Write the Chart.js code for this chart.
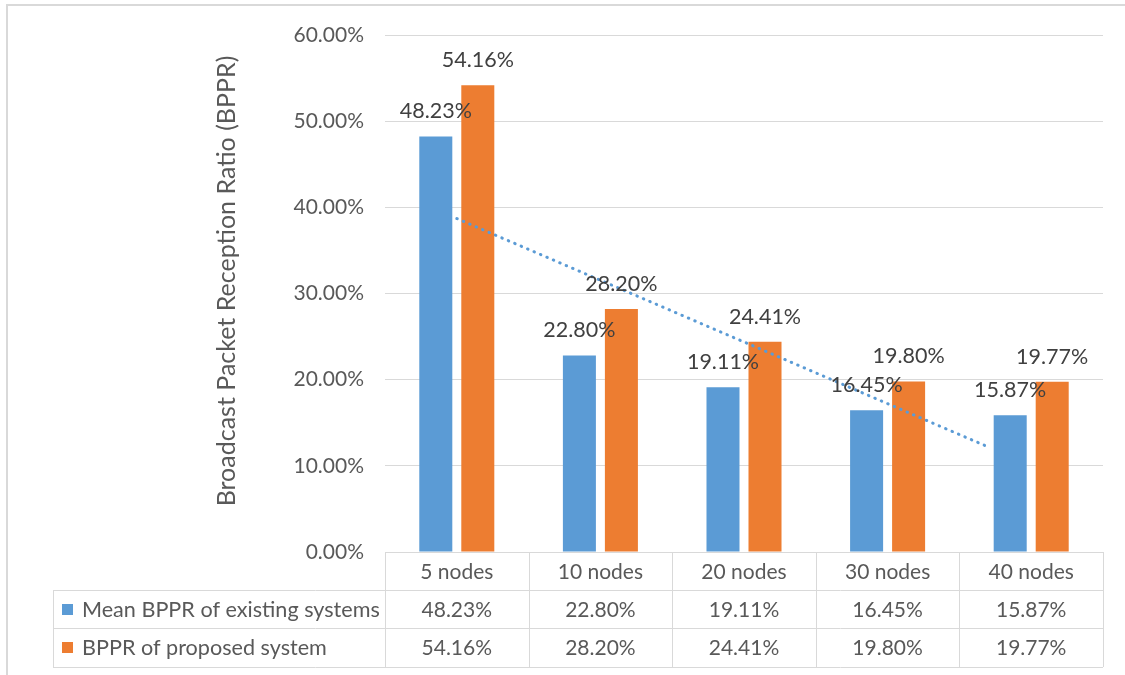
<!DOCTYPE html>
<html>
<head>
<meta charset="utf-8">
<script src="https://cdn.jsdelivr.net/npm/chart.js@4.4.1/dist/chart.umd.min.js"></script>
<style>
html,body{margin:0;padding:0;background:#fff;}
canvas{display:block;}
</style>
</head>
<body>
<canvas id="c" width="1125" height="675"></canvas>
<script>
const categories = ['5 nodes', '10 nodes', '20 nodes', '30 nodes', '40 nodes'];
const seriesNames = ['Mean BPPR of existing systems', 'BPPR of proposed system'];
const existingValues = [48.23, 22.80, 19.11, 16.45, 15.87];
const proposedValues = [54.16, 28.20, 24.41, 19.80, 19.77];
const trendX = [0, 3.70];
const trendY = [38.7, 12.2];
const yTicks = [0, 10, 20, 30, 40, 50, 60];
const yTitle = 'Broadcast Packet Reception Ratio (BPPR)';

const BLUE = '#5B9BD5';
const ORANGE = '#ED7D31';
const GRID = '#d9d9d9';
const TEXT = '#595959';
const FONT = 'Lato';

const fmt = v => v.toFixed(2) + '%';

const labelPlugin = {
  id: 'labels',
  afterDatasetsDraw(chart) {
    const ctx = chart.ctx;
    ctx.save();
    ctx.font = '21.5px ' + FONT;
    ctx.fillStyle = '#404040';
    ctx.textAlign = 'center';
    ctx.textBaseline = 'middle';
    [0, 1].forEach(di => {
      const meta = chart.getDatasetMeta(di);
      meta.data.forEach((el, i) => {
        ctx.fillText(fmt(chart.data.datasets[di].data[i]), el.x, el.y - 25);
      });
    });
    ctx.restore();
  }
};

const tablePlugin = {
  id: 'table',
  afterDraw(chart) {
    const ctx = chart.ctx;
    const area = chart.chartArea;
    const n = categories.length;
    const colW = (area.right - area.left) / n;
    const top = area.bottom;
    const rowH = [38, 38, 39];
    const y1 = top + rowH[0], y2 = y1 + rowH[1], y3 = y2 + rowH[2];
    const tableLeft = 53;
    ctx.save();
    ctx.strokeStyle = GRID;
    ctx.lineWidth = 1;
    ctx.beginPath();
    [y1, y2, y3].forEach(y => {
      ctx.moveTo(tableLeft, Math.round(y) + 0.5);
      ctx.lineTo(area.right, Math.round(y) + 0.5);
    });
    for (let i = 0; i <= n; i++) {
      const x = Math.round(area.left + i * colW) + 0.5;
      ctx.moveTo(x, top);
      ctx.lineTo(x, y3);
    }
    ctx.moveTo(tableLeft + 0.5, y1);
    ctx.lineTo(tableLeft + 0.5, y3);
    ctx.stroke();

    ctx.lineWidth = 2;
    ctx.beginPath();
    ctx.moveTo(1125, 5);
    ctx.lineTo(7, 5);
    ctx.lineTo(7, 675);
    ctx.stroke();

    ctx.font = '21px ' + FONT;
    ctx.fillStyle = TEXT;
    ctx.textBaseline = 'middle';
    ctx.textAlign = 'center';
    const xs = chart.scales.x;
    categories.forEach((c, i) => {
      const cx = xs.getPixelForValue(i);
      ctx.fillText(c, cx, top + rowH[0] / 2 + 1);
      ctx.fillText(fmt(existingValues[i]), cx, y1 + rowH[1] / 2 + 1);
      ctx.fillText(fmt(proposedValues[i]), cx, y2 + rowH[2] / 2 + 1);
    });
    ctx.textAlign = 'left';
    ctx.font = '21.6px ' + FONT;
    [[BLUE, y1, rowH[1]], [ORANGE, y2, rowH[2]]].forEach((r, k) => {
      ctx.fillStyle = r[0];
      ctx.fillRect(62, Math.round(r[1] + r[2] / 2 - 5.5), 11, 11);
      ctx.fillStyle = TEXT;
      ctx.fillText(seriesNames[k], 82, r[1] + r[2] / 2 + 1);
    });

    // y-axis title
    ctx.save();
    ctx.translate(227, 281);
    ctx.rotate(-Math.PI / 2);
    ctx.font = '25px ' + FONT;
    ctx.textAlign = 'center';
    ctx.textBaseline = 'middle';
    ctx.fillStyle = TEXT;
    ctx.fillText(yTitle, 0, 0);
    ctx.restore();
    ctx.restore();
  }
};

const PAD_LEFT = 210;
new Chart(document.getElementById('c'), {
  type: 'bar',
  data: {
    labels: categories,
    datasets: [
      { type: 'bar', label: seriesNames[0], data: existingValues, backgroundColor: BLUE,
        categoryPercentage: 0.585, barPercentage: 0.786, order: 2 },
      { type: 'bar', label: seriesNames[1], data: proposedValues, backgroundColor: ORANGE,
        categoryPercentage: 0.585, barPercentage: 0.786, order: 2 },
      { type: 'line', label: 'Trend', parsing: false,
        data: trendX.map((x, i) => ({ x: x, y: trendY[i] })),
        borderColor: BLUE, borderWidth: 3, borderDash: [0.5, 6.5],
        borderCapStyle: 'round', pointRadius: 0, fill: false, order: 1 }
    ]
  },
  options: {
    responsive: false,
    animation: false,
    events: [],
    layout: { padding: { left: PAD_LEFT, top: 35, right: 22, bottom: 123 } },
    plugins: { legend: { display: false }, tooltip: { enabled: false } },
    scales: {
      x: { type: 'category', display: false, offset: true, min: 0, max: 4 },
      y: {
        min: 0, max: 60,
        afterFit(scale) { scale.width = 385 - PAD_LEFT; },
        afterBuildTicks(scale) { scale.ticks = yTicks.map(v => ({ value: v })); },
        border: { display: false },
        grid: { color: GRID, lineWidth: 1, drawTicks: false },
        ticks: { padding: 21, color: TEXT, font: { family: FONT, size: 21 }, callback: v => fmt(v) },
        title: { display: false }
      }
    }
  },
  plugins: [labelPlugin, tablePlugin]
});
</script>
</body>
</html>
